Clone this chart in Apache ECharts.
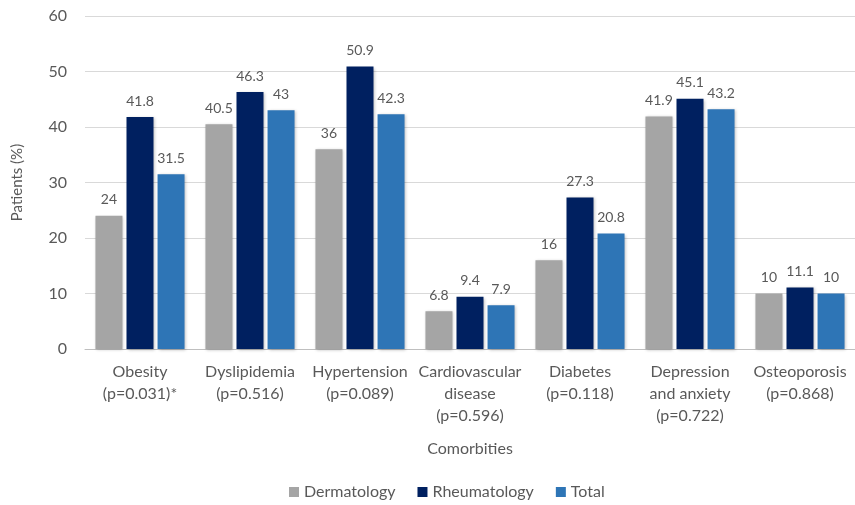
<!DOCTYPE html>
<html><head><meta charset="utf-8">
<script src="https://cdn.jsdelivr.net/npm/echarts@6/dist/echarts.min.js"></script>
<style>html,body{margin:0;padding:0;background:#fff}#c{width:855px;height:505px}</style>
</head><body><div id="c"></div>
<script>
const categories = ["Obesity\n(p=0.031)*","Dyslipidemia\n(p=0.516)","Hypertension\n(p=0.089)","Cardiovascular\ndisease\n(p=0.596)","Diabetes\n(p=0.118)","Depression\nand anxiety\n(p=0.722)","Osteoporosis\n(p=0.868)"];
const dermatology = [24,40.5,36,6.8,16,41.9,10];
const rheumatology = [41.8,46.3,50.9,9.4,27.3,45.1,11.1];
const total = [31.5,43,42.3,7.9,20.8,43.2,10];
const FONT = 'Lato';
const TXT = '#595959';
function s(name, data, color){
  return {name, type:'bar', data, barWidth:27, barGap:'15%',
    itemStyle:{color, shadowColor:'rgba(0,0,0,0.25)', shadowBlur:3, shadowOffsetX:1, shadowOffsetY:1},
    label:{show:true, position:'top', distance:9, color:TXT, fontFamily:FONT, fontSize:14}};
}
const chart = echarts.init(document.getElementById('c'));
chart.setOption({
  animation:false,
  textStyle:{fontFamily:FONT},
  grid:{left:85, right:0, top:16, bottom:156},
  legend:{bottom:0, left:284, itemWidth:10, itemHeight:10, itemGap:22, icon:'rect',
    textStyle:{color:TXT, fontFamily:FONT, fontSize:16}, data:['Dermatology','Rheumatology','Total']},
  xAxis:{type:'category', data:categories,
    axisLine:{lineStyle:{color:'#bfbfbf'}}, axisTick:{show:false},
    axisLabel:{color:TXT, fontFamily:FONT, fontSize:16, lineHeight:22, margin:12, interval:0},
    name:'Comorbities', nameLocation:'middle', nameGap:92,
    nameTextStyle:{color:TXT, fontFamily:FONT, fontSize:16}},
  yAxis:{type:'value', min:0, max:60, interval:10,
    axisLine:{show:false}, axisTick:{show:false},
    splitLine:{lineStyle:{color:'#d9d9d9'}},
    axisLabel:{color:TXT, fontFamily:FONT, fontSize:16, margin:18},
    name:'Patients (%)', nameLocation:'middle', nameGap:60,
    nameTextStyle:{color:TXT, fontFamily:FONT, fontSize:15}},
  series:[s('Dermatology',dermatology,'#A5A5A5'), s('Rheumatology',rheumatology,'#002060'), s('Total',total,'#2E75B6')]
});
</script></body></html>
